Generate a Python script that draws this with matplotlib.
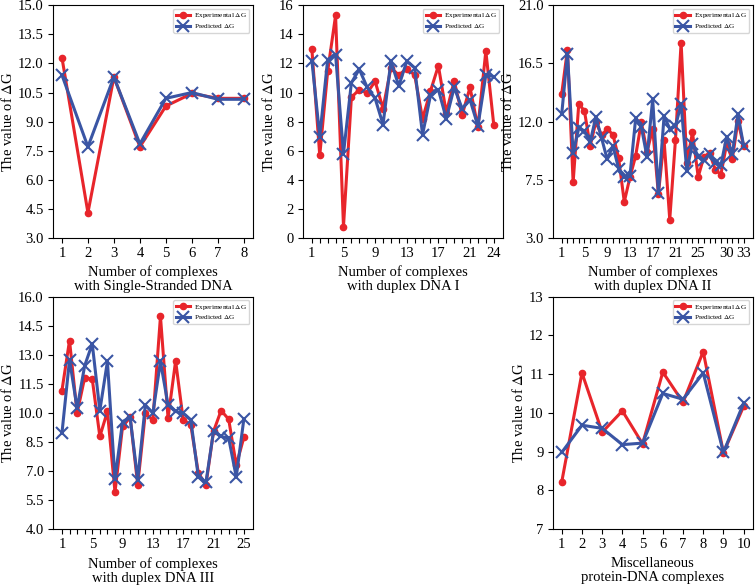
import numpy as np
from matplotlib import pyplot as plt

plt.rcParams['font.family'] = ['Liberation Serif', 'DejaVu Serif']
plt.rcParams['mathtext.fontset'] = 'stix'

# single-stranded DNA
exp1 = [12.3, 4.3, 11.3, 7.7, 9.8, 10.45, 10.2, 10.2]
pred1 = [11.4, 7.7, 11.3, 7.85, 10.2, 10.5, 10.15, 10.15]

# duplex DNA I
exp2 = [13.0, 5.67, 11.45, 15.3, 0.78, 9.67, 10.2, 9.97, 10.77, 8.9,
        11.7, 11.2, 11.65, 11.2, 8.2, 10.1, 11.84, 8.6, 10.8, 8.45,
        10.35, 7.6, 12.85, 7.8]
pred2 = [12.2, 6.97, 12.27, 12.6, 5.8, 10.67, 11.6, 10.35, 9.6, 7.8,
         12.15, 10.45, 12.15, 11.7, 7.1, 9.8, 10.2, 8.2, 10.35, 8.9,
         9.5, 7.7, 11.2, 11.1]

# duplex DNA II
exp3 = [14.17, 17.57, 7.29, 13.4, 12.8, 10.12, 11.98, 10.95, 11.41, 11.0,
        9.19, 5.79, 7.7, 9.34, 11.97, 9.66, 11.46, 6.4, 10.56, 4.42,
        10.56, 18.11, 8.8, 11.16, 7.72, 9.27, 9.58, 8.29, 7.9, 10.25,
        9.09, 12.05, 10.12]
pred3 = [12.6, 17.26, 9.58, 11.5, 11.28, 10.43, 12.36, 10.74, 9.07, 10.12,
         8.37, 7.72, 7.8, 12.24, 11.59, 9.27, 13.73, 6.51, 12.42, 11.46,
         11.64, 13.34, 8.19, 10.3, 9.27, 9.01, 9.48, 8.83, 8.63, 10.81,
         9.48, 12.55, 10.12]

# duplex DNA III
exp4 = [11.15, 13.73, 9.98, 11.82, 11.74, 8.78, 10.07, 5.91, 9.3, 9.76,
        6.29, 9.98, 9.62, 14.97, 9.73, 12.68, 9.64, 9.38, 6.89, 6.29,
        9.04, 10.12, 9.67, 7.3, 8.73]
pred4 = [8.95, 12.74, 10.24, 12.43, 13.56, 10.12, 12.65, 6.58, 9.55, 9.76,
         6.55, 10.41, 9.98, 12.65, 10.41, 10.07, 9.98, 9.64, 6.69, 6.41,
         9.04, 8.78, 8.7, 6.69, 9.67]

# miscellaneous
exp5 = [8.22, 11.03, 9.5, 10.05, 9.2, 11.05, 10.27, 11.58, 8.97, 10.17]
pred5 = [8.98, 9.68, 9.6, 9.18, 9.22, 10.5, 10.35, 11.03, 8.98, 10.25]

panels = [
    (exp1, pred1, 'Number of complexes\nwith Single-Stranded DNA',
     np.arange(3.0, 15.01, 1.5), '%.1f', [1, 2, 3, 4, 5, 6, 7, 8]),
    (exp2, pred2, 'Number of complexes\nwith duplex DNA I',
     np.arange(0, 17, 2), '%d', [1, 5, 9, 13, 17, 21, 24]),
    (exp3, pred3, 'Number of complexes\nwith duplex DNA II',
     np.arange(3.0, 21.01, 4.5), '%.1f', [1, 5, 9, 13, 17, 21, 25, 30, 33]),
    (exp4, pred4, 'Number of complexes\nwith duplex DNA III',
     np.arange(4.0, 16.01, 1.5), '%.1f', [1, 5, 9, 13, 17, 21, 25]),
    (exp5, pred5, 'Miscellaneous\nprotein-DNA complexes',
     np.arange(7, 14, 1), '%d', list(range(1, 11))),
]

lefts = [0.070, 0.401, 0.732]
positions = [(lefts[0], 0.594), (lefts[1], 0.594), (lefts[2], 0.594),
             (lefts[0], 0.097), (lefts[2], 0.097)]

fig = plt.figure(figsize=(7.55, 5.86), dpi=100)

for (exp, pred, xlab, yt, fmt, lab), (l, b) in zip(panels, positions):
    ax = fig.add_axes([l, b, 0.265, 0.397])
    x = np.arange(1, len(exp) + 1)
    ax.plot(x, exp, color='#e8252b', lw=2.2, marker='o', ms=4.5,
            label=r'Experimental $\Delta$G')
    ax.plot(x, pred, color='#3a55a4', lw=2.2, marker='x', ms=8, mew=1.5,
            label=r'Predicted $\Delta$G')
    ax.set_ylim(yt[0], yt[-1])
    ax.set_yticks(yt)
    ax.set_yticklabels([fmt % v for v in yt])
    ax.set_xticks(x)
    ax.set_xticklabels([str(v) if v in lab else '' for v in x])
    ax.tick_params(labelsize=10.5, pad=3)
    ax.set_xlabel(xlab, fontsize=10.5, linespacing=1.1, labelpad=4)
    ax.set_ylabel(r'The value of $\Delta$G', fontsize=10.5, labelpad=2)
    ax.legend(loc='upper right', fontsize=5.2, handlelength=2.0,
              borderpad=0.35, labelspacing=0.25, handletextpad=0.5)

plt.savefig('out.png', dpi=100)
